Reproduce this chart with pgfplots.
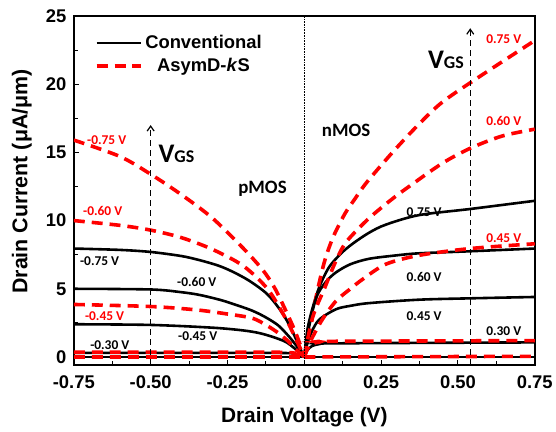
\documentclass[border=0pt]{standalone}
\usepackage{pgfplots}
\pgfplotsset{compat=1.18}
\usetikzlibrary{arrows.meta}
\usepackage{fontspec}
\setmainfont{Liberation Sans}
\newfontfamily\calib{Carlito}
\begin{document}
\begin{tikzpicture}
\begin{axis}[
  scale only axis, width=462bp, height=350bp,
  xmin=-0.75, xmax=0.75, ymin=-0.6, ymax=25,
  xtick={-0.75,-0.5,-0.25,0,0.25,0.5,0.75},
  xticklabels={-0.75,-0.50,-0.25,0.00,0.25,0.50,0.75},
  ytick={0,5,10,15,20,25}, yticklabels={0,5,10,15,20,25},
  minor x tick num=1, minor y tick num=1,
  tick align=inside, xtick pos=bottom, ytick pos=left,
  major tick length=5bp, minor tick length=4bp,
  tick style={line width=1bp,black},
  axis line style={line width=1.8bp},
  ticklabel style={font=\bfseries\fontsize{18.5}{20}\selectfont},
  xticklabel style={yshift=-7bp},
  yticklabel style={xshift=-4bp},
  xlabel={Drain Voltage (V)}, ylabel={Drain Current (μA/μm)},
  every axis x label/.style={at={(rel axis cs:0.5,0)},yshift=-52bp,anchor=center,font=\bfseries\fontsize{21}{22}\selectfont},
  every axis y label/.style={at={(rel axis cs:0,0.526)},xshift=-52bp,rotate=90,anchor=center,font=\bfseries\fontsize{21.5}{22}\selectfont},
  legend style={at={(rel axis cs:0.045,0.95)},anchor=north west,draw=none,fill=none,
    font=\bfseries\fontsize{18.5}{20}\selectfont,row sep=4bp,inner sep=0pt},
  legend image code/.code={\draw[#1] (0bp,0bp) -- (45bp,0bp);},
  conv/.style={black,line width=2.6bp,smooth,tension=0.5},
  asym/.style={red,line width=3.6bp,dash pattern=on 11bp off 7bp,smooth,tension=0.5},
]
% conventional, nMOS
\addplot[conv] coordinates {(0,0)(0.01,2.0)(0.027,3.6)(0.05,5.2)(0.081,6.6)(0.12,7.6)(0.157,8.3)(0.21,9.1)(0.265,9.7)(0.373,10.4)(0.54,10.85)(0.75,11.45)};
\addlegendentry{Conventional}
\addplot[asym] coordinates {(0,0)(0.013,1.4)(0.03,3.4)(0.045,5.1)(0.067,7.1)(0.094,8.8)(0.132,10.5)(0.165,11.6)(0.203,12.8)(0.287,15.0)(0.37,17.0)(0.45,18.7)(0.58,20.7)(0.75,23.2)};
\addlegendentry{AsymD-\textit{k}S}
\addplot[conv,forget plot] coordinates {(0,0)(0.01,1.6)(0.038,4.3)(0.07,5.5)(0.103,6.2)(0.15,6.8)(0.211,7.2)(0.3,7.45)(0.373,7.6)(0.54,7.75)(0.75,7.95)};
\addplot[conv,forget plot] coordinates {(0,0)(0.01,1.0)(0.025,1.9)(0.049,2.75)(0.103,3.5)(0.15,3.75)(0.211,3.95)(0.373,4.2)(0.54,4.3)(0.75,4.4)};
\addplot[conv,forget plot] coordinates {(0,0)(0.01,0.5)(0.025,0.8)(0.05,0.95)(0.1,1.0)(0.75,1.07)};
\addplot[conv,forget plot] coordinates {(0,0)(0.75,0)};
% conventional, pMOS
\addplot[conv,forget plot] coordinates {(-0.75,7.95)(-0.6,7.85)(-0.5,7.7)(-0.4,7.4)(-0.341,7.1)(-0.28,6.7)(-0.233,6.25)(-0.18,5.6)(-0.125,4.7)(-0.09,3.8)(-0.06,2.8)(-0.035,1.7)(-0.015,0.7)(0,0)};
\addplot[conv,forget plot] coordinates {(-0.75,5.0)(-0.5,4.95)(-0.4,4.75)(-0.341,4.55)(-0.276,4.2)(-0.233,3.9)(-0.17,3.4)(-0.125,2.9)(-0.084,2.3)(-0.05,1.5)(-0.025,0.8)(0,0)};
\addplot[conv,forget plot] coordinates {(-0.75,2.4)(-0.5,2.35)(-0.3,2.15)(-0.2,1.95)(-0.146,1.75)(-0.1,1.45)(-0.06,1.1)(-0.03,0.6)(0,0)};
\addplot[conv,forget plot] coordinates {(-0.75,0.3)(-0.1,0.3)(-0.03,0.2)(0,0)};
\addplot[conv,forget plot] coordinates {(-0.75,0)(0,0)};
% AsymD-kS, nMOS
\addplot[asym,forget plot] coordinates {(0,0)(0.027,2.9)(0.067,5.1)(0.1,6.9)(0.132,8.3)(0.18,9.5)(0.222,10.4)(0.287,11.6)(0.341,12.5)(0.449,14.2)(0.54,15.3)(0.644,16.2)(0.75,16.7)};
\addplot[asym,forget plot] coordinates {(0,0)(0.015,0.9)(0.03,1.6)(0.06,2.8)(0.103,4.1)(0.15,5.0)(0.19,5.7)(0.265,6.8)(0.373,7.45)(0.54,7.95)(0.75,8.3)};
\addplot[asym,forget plot] coordinates {(0,0)(0.01,0.6)(0.025,0.95)(0.05,1.1)(0.1,1.15)(0.75,1.2)};
\addplot[asym,forget plot] coordinates {(0,0)(0.75,0.05)};
% AsymD-kS, pMOS
\addplot[asym,forget plot] coordinates {(-0.75,15.9)(-0.6,14.7)(-0.5,13.4)(-0.4,11.9)(-0.3,10.2)(-0.2,8.0)(-0.136,6.4)(-0.1,5.2)(-0.073,4.0)(-0.036,2.2)(-0.015,1.0)(0,0)};
\addplot[asym,forget plot] coordinates {(-0.75,10.0)(-0.6,9.65)(-0.5,9.3)(-0.4,8.75)(-0.3,7.9)(-0.2,6.7)(-0.12,5.0)(-0.06,2.8)(-0.025,1.2)(0,0)};
\addplot[asym,forget plot] coordinates {(-0.75,3.85)(-0.5,3.7)(-0.35,3.45)(-0.25,3.15)(-0.17,2.85)(-0.125,2.35)(-0.084,1.75)(-0.05,1.1)(-0.03,0.6)(0,0)};
\addplot[asym,forget plot] coordinates {(-0.75,0.35)(-0.1,0.35)(-0.03,0.2)(0,0)};
\addplot[asym,forget plot] coordinates {(-0.75,0)(0,0)};
% guides
\draw[black,line width=0.6bp,densely dotted] (axis cs:0,-0.6) -- (axis cs:0,25);
\draw[black,line width=1.2bp,dash pattern=on 6bp off 4bp,-{Straight Barb[length=5bp,width=7bp]}] (axis cs:-0.5,-0.6) -- (axis cs:-0.5,17);
\draw[black,line width=1.2bp,dash pattern=on 6bp off 4bp,-{Straight Barb[length=5bp,width=7bp]}] (axis cs:0.54,-0.6) -- (axis cs:0.54,24.1);
\node[font=\calib\bfseries\fontsize{27}{28}\selectfont] at (axis cs:-0.416,14.9) {V\fontsize{18}{18}\selectfont GS};
\node[font=\calib\bfseries\fontsize{27}{28}\selectfont] at (axis cs:0.461,21.8) {V\fontsize{18}{18}\selectfont GS};
\node[font=\calib\bfseries\fontsize{19}{20}\selectfont] at (axis cs:-0.136,12.3) {pMOS};
\node[font=\calib\bfseries\fontsize{19}{20}\selectfont] at (axis cs:0.136,16.6) {nMOS};
% curve labels
\begin{scope}[every node/.style={font=\calib\bfseries\fontsize{13.5}{14}\selectfont}]
\node[red] at (axis cs:-0.643,15.9) {-0.75 V};
\node[red] at (axis cs:-0.656,10.7) {-0.60 V};
\node at (axis cs:-0.666,7.0) {-0.75 V};
\node at (axis cs:-0.35,5.5) {-0.60 V};
\node[red] at (axis cs:-0.65,3.0) {-0.45 V};
\node at (axis cs:-0.347,1.5) {-0.45 V};
\node at (axis cs:-0.633,0.9) {-0.30 V};
\node[red] at (axis cs:0.649,23.3) {0.75 V};
\node[red] at (axis cs:0.649,17.3) {0.60 V};
\node at (axis cs:0.39,10.6) {0.75 V};
\node[red] at (axis cs:0.649,8.7) {0.45 V};
\node at (axis cs:0.39,5.85) {0.60 V};
\node at (axis cs:0.39,2.96) {0.45 V};
\node at (axis cs:0.649,1.9) {0.30 V};
\end{scope}
\end{axis}
\path (current axis.south west) ++(-74bp,-66bp) (current axis.north east) ++(20bp,16bp);
\end{tikzpicture}
\end{document}
